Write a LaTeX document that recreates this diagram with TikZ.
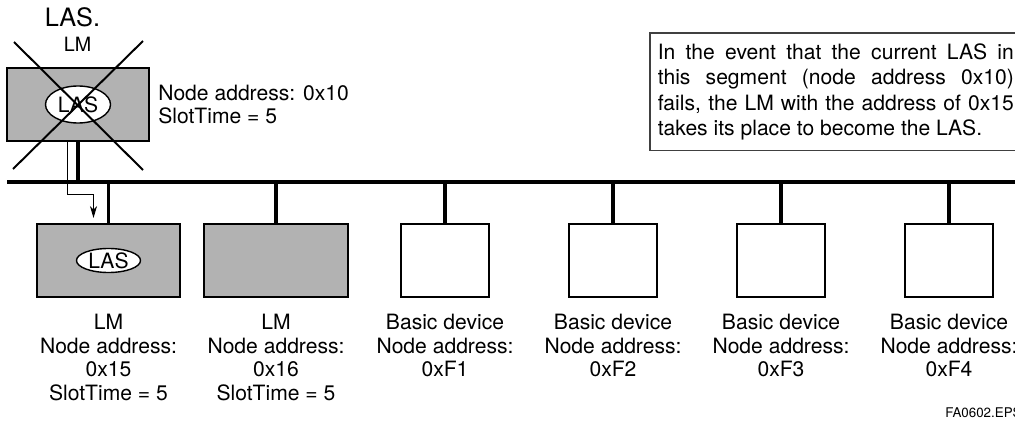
\documentclass[tikz,border=0pt]{standalone}
\usepackage{fontspec}
\setmainfont{TeX Gyre Heros}
\usetikzlibrary{arrows.meta, positioning, shapes.geometric}

\begin{document}
\begin{tikzpicture}[x=0.025cm, y=-0.025cm, >={Stealth[length=8.5pt, width=5pt, inset=2.5pt]},
  font=\fontsize{15}{16.7}\selectfont,
  dev/.style={draw, line width=1.4pt, minimum height=1.825cm, inner sep=0pt},
  lmbox/.style={dev, fill=gray!60, minimum width=3.575cm},
  basic/.style={dev, fill=white, minimum width=2.2cm},
  lasmark/.style={ellipse, draw, fill=white, line width=1pt, inner sep=0pt},
  lbl/.style={align=center, inner sep=0pt},
  stem/.style={line width=2.5pt},
  bus/.style={line width=2.8pt}]
\useasboundingbox (0,0) rectangle (1015,421);

% failed LAS
\node[lmbox, minimum width=3.55cm] (old) at (78,104.5) {};
\node[lasmark, minimum width=1.625cm, minimum height=0.925cm] (gone) at (old) {LAS};
\node[anchor=base, inner sep=0pt, font=\fontsize{18}{20}\selectfont] (lastitle) at (72.5,27) {LAS.};
\node[anchor=base, inner sep=0pt, font=\fontsize{14}{16}\selectfont] (oldlm) at (77.5,51) {LM};
\node[lbl, align=left, right=0.2cm of old] (oldt) {Node address: 0x10\\SlotTime = 5};
\draw[line width=1.4pt] (14,42) -- (143,170) (143,41) -- (13,169);

% devices on the segment
\node[lmbox] (lm1) at (108.5,260.5) {};
\node[lmbox] (lm2) at (276,260.5) {};
\node[basic] (bd1) at (445,260.5) {};
\node[basic] (bd2) at (613,260.5) {};
\node[basic] (bd3) at (781,260.5) {};
\node[basic] (bd4) at (949,260.5) {};
\node[lasmark, minimum width=1.6cm, minimum height=0.6cm] (new) at (lm1) {LAS};

\node[lbl, below=0.4cm of lm1] (lm1t) {LM\\Node address:\\0x15\\SlotTime = 5};
\node[lbl, below=0.4cm of lm2] (lm2t) {LM\\Node address:\\0x16\\SlotTime = 5};
\node[lbl, below=0.4cm of bd1] (bd1t) {Basic device\\Node address:\\0xF1};
\node[lbl, below=0.4cm of bd2] (bd2t) {Basic device\\Node address:\\0xF2};
\node[lbl, below=0.4cm of bd3] (bd3t) {Basic device\\Node address:\\0xF3};
\node[lbl, below=0.4cm of bd4] (bd4t) {Basic device\\Node address:\\0xF4};

% bus
\coordinate (busL) at (7,182);
\coordinate (busR) at (1020,182);
\draw[stem] (old.south) -- (old.south |- busL);
\draw[stem] (lm1.north) -- (lm1.north |- busL);
\draw[stem] (lm2.north) -- (lm2.north |- busL);
\draw[stem] (bd1.north) -- (bd1.north |- busL);
\draw[stem] (bd2.north) -- (bd2.north |- busL);
\draw[stem] (bd3.north) -- (bd3.north |- busL);
\draw[stem] (bd4.north) -- (bd4.north |- busL);
\draw[bus] (busL) -- (busR);

% takeover
\draw[->, line width=0.7pt] ([xshift=-0.275cm]old.south) -- ++(0,52) -| ([xshift=-0.375cm, yshift=0.125cm]lm1.north);

\node[draw=black!75, line width=1.1pt, anchor=north west, text width=8.9cm, align=justify,
  inner xsep=0.2cm, inner ysep=0.265cm, font=\fontsize{15}{18.1}\selectfont] (note) at (649,32)
  {In the event that the current LAS in\linebreak this segment (node address 0x10)\linebreak fails, the LM with the address of 0x15\linebreak takes its place to become the LAS.};

\node[anchor=base west, inner sep=0pt, font=\fontsize{9.5}{11}\selectfont] (fig) at (945,417) {FA0602.EPS};
\end{tikzpicture}
\end{document}
